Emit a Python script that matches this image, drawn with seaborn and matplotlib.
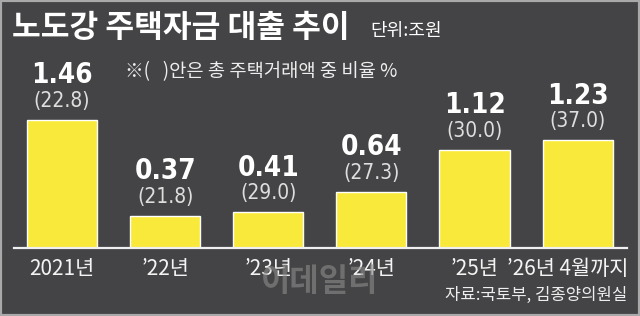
import matplotlib
matplotlib.use("Agg")
from matplotlib import pyplot
from matplotlib import font_manager as fm
from matplotlib.patches import Rectangle
from matplotlib.transforms import ScaledTranslation
import pandas as pd
import seaborn as sns

# data
years = ["2021년", "’22년", "’23년", "’24년", "’25년", "’26년 4월까지"]
loans = [1.46, 0.37, 0.41, 0.64, 1.12, 1.23]          # 조원
share = [22.8, 21.8, 29.0, 27.3, 30.0, 37.0]          # 총 주택거래액 중 비율 %

bg = "#444446"
yellow = "#f9e93a"
kr = ["Noto Sans CJK KR", "DejaVu Sans"]


def narrow_font(bold):
    # a condensed face for the numbers, if one is installed
    wanted = ["LiberationSansNarrow-Bold.", "DejaVuSansCondensed-Bold."] if bold \
        else ["LiberationSansNarrow-Regular.", "DejaVuSansCondensed."]
    for w in wanted:
        for f in fm.fontManager.ttflist:
            if w in f.fname:
                return f.fname
    return None


num_bold = narrow_font(True)
num_reg = narrow_font(False)

sns.set_style("dark")
pyplot.rcParams["font.family"] = kr

df = pd.DataFrame({"year": years, "loan": loans, "share": share})

fig = pyplot.figure(figsize=(6.4, 3.16), dpi=100, facecolor=bg)
ax = fig.add_axes([0.0219, 0.2152, 0.958, 0.4997])
ax.set_facecolor(bg)

sns.barplot(data=df, x="year", y="loan", color=yellow, width=0.68,
            saturation=1, ax=ax)

ax.set_ylim(0, 1.8)
ax.set_xlim(-0.466, 5.48)
ax.set_xlabel("")
ax.set_ylabel("")
ax.set_yticks([])
ax.grid(False)
for s in ["top", "left", "right"]:
    ax.spines[s].set_visible(False)
ax.spines["bottom"].set_color("#f0f0f0")
ax.spines["bottom"].set_linewidth(1.6)
ax.tick_params(axis="x", length=0, pad=7, colors="#f4f4f4")
ax.set_xticks(range(len(years)))
ax.set_xticklabels(years, fontsize=15)
last = ax.get_xticklabels()[-1]
last.set_transform(last.get_transform() + ScaledTranslation(-0.1, 0, fig.dpi_scale_trans))

# value labels above bars
if num_bold:
    big = fm.FontProperties(fname=num_bold, size=20)
    small = fm.FontProperties(fname=num_reg or num_bold, size=15)
else:
    big = fm.FontProperties(family=kr, weight="bold", size=19)
    small = fm.FontProperties(family=kr, size=13)
for i, (v, p) in enumerate(zip(loans, share)):
    ax.annotate(f"{v:.2f}", (i, v), xytext=(0, 32), textcoords="offset points",
                ha="center", va="center", color="white", fontproperties=big)
    ax.annotate(f"({p:.1f})", (i, v), xytext=(0, 13.5), textcoords="offset points",
                ha="center", va="center", color="#dedede", fontproperties=small)

# titles and notes
fig.text(0.019, 0.911, "노도강 주택자금 대출 추이", color="white", fontsize=22.5,
         fontweight="bold", va="center", ha="left")
fig.text(0.578, 0.902, "단위:조원", color="white", fontsize=13,
         va="center", ha="left")
fig.text(0.195, 0.772, "※(   )안은 총 주택거래액 중 비율 %", color="#eeeeee",
         fontsize=13.5, va="center", ha="left")
fig.text(0.98, 0.066, "자료:국토부, 김종양의원실", color="#eeeeee", fontsize=12,
         va="center", ha="right")

# faint publisher watermark
fig.text(0.5, 0.108, "이데일리", color="#8c8c8c", alpha=0.6, fontsize=23,
         fontweight="bold", va="center", ha="center")

# outer light frame
fig.patches.append(Rectangle((0, 0), 1, 1, transform=fig.transFigure,
                             fill=False, edgecolor="#a9a9a9", linewidth=3))

pyplot.savefig("out.png", dpi=100, facecolor=bg)
